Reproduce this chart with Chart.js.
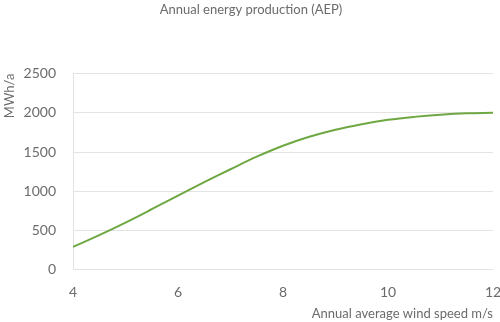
<!DOCTYPE html>
<html lang="en">
<head>
    <meta charset="UTF-8">
    <title>Annual energy production (AEP)</title>
    <script src="https://cdn.jsdelivr.net/npm/chart.js"></script>
    <style>
        html, body { margin: 0; padding: 0; background: #fff; }
        #wrap { width: 500px; height: 322px; }
    </style>
</head>
<body>
    <div id="wrap">
        <canvas id="aepChart" width="500" height="322"></canvas>
    </div>

    <script>
        // wind speed (m/s) and yearly energy yield (MWh/a)
        const windSpeeds = [4, 4.5, 5, 5.5, 6, 6.5, 7, 7.5, 8, 8.5, 9, 9.5, 10, 10.5, 11, 11.5, 12];
        const aepValues = [290, 440, 600, 770, 945, 1115, 1280, 1440, 1580, 1695, 1785, 1855, 1910, 1948, 1975, 1993, 2000];
        const xTicks = [4, 6, 8, 10, 12];
        const yTicks = [0, 500, 1000, 1500, 2000, 2500];

        const textColor = '#6b6b6b';
        const fontFamily = 'Lato, "Open Sans", sans-serif';
        const tickFont = { family: fontFamily, size: 14, weight: 'normal' };
        const labelFont = { family: fontFamily, size: 13, weight: 'normal' };

        const ctx = document.getElementById('aepChart').getContext('2d');
        new Chart(ctx, {
            type: 'line',
            data: {
                datasets: [{
                    label: 'AEP',
                    data: windSpeeds.map((v, i) => ({ x: v, y: aepValues[i] })),
                    borderColor: '#6fa843',
                    borderWidth: 2,
                    pointRadius: 0,
                    tension: 0.4,
                    fill: false
                }]
            },
            options: {
                responsive: false,
                animation: false,
                layout: { padding: { left: 2, right: 0, top: 2, bottom: 0 } },
                plugins: {
                    legend: { display: false },
                    tooltip: { enabled: false },
                    title: {
                        display: true,
                        text: 'Annual energy production (AEP)',
                        color: textColor,
                        font: labelFont,
                        padding: { top: 0, bottom: 56 }
                    }
                },
                scales: {
                    x: {
                        type: 'linear',
                        min: 4,
                        max: 12,
                        afterBuildTicks: axis => { axis.ticks = xTicks.map(v => ({ value: v })); },
                        // keep the plot running nearly to the right edge
                        afterFit: axis => { axis.paddingRight = 7; },
                        grid: { display: false },
                        border: { display: false },
                        ticks: {
                            color: textColor,
                            font: tickFont,
                            padding: 6,
                            callback: v => String(v)
                        },
                        title: {
                            display: true,
                            text: 'Annual average wind speed m/s',
                            align: 'end',
                            color: textColor,
                            font: labelFont,
                            padding: { top: 0, bottom: 0 }
                        }
                    },
                    y: {
                        min: 0,
                        max: 2500,
                        afterBuildTicks: axis => { axis.ticks = yTicks.map(v => ({ value: v })); },
                        afterFit: axis => { axis.width = 71; },
                        grid: { color: '#e3e3e3', lineWidth: 1, drawTicks: false },
                        border: { display: true, color: '#e3e3e3' },
                        ticks: {
                            color: textColor,
                            font: tickFont,
                            padding: 17,
                            callback: v => String(v)
                        },
                        title: {
                            display: true,
                            text: 'MWh/a',
                            align: 'end',
                            color: textColor,
                            font: labelFont,
                            padding: { top: 0, bottom: 4 }
                        }
                    }
                }
            }
        });
    </script>
</body>
</html>
